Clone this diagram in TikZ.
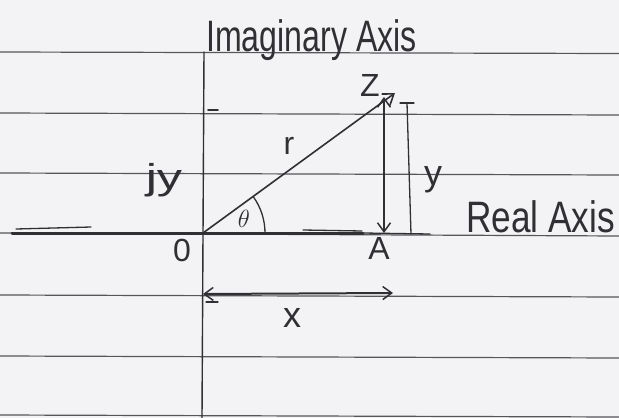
\documentclass[tikz,border=0pt]{standalone}
\usepackage{fontspec}
\usepackage{graphicx}
\setmainfont{Liberation Sans}
\usetikzlibrary{arrows.meta}
\definecolor{paper}{HTML}{F3F3F5}
\definecolor{rule}{HTML}{55555A}
\definecolor{pen}{HTML}{303034}
\tikzset{
  ruleline/.style={draw=rule, line width=1.2pt},
  penline/.style={draw=pen, line width=1.6pt, line cap=round},
  thinpen/.style={draw=pen, line width=1.3pt, line cap=round},
  axisline/.style={draw=pen, line width=3pt, line cap=round},
  barb/.style={-{Straight Barb[length=10pt,width=14pt,line width=1.6pt]}},
  dbarb/.style={{Straight Barb[length=9pt,width=13pt,line width=1.5pt]}-{Straight Barb[length=9pt,width=13pt,line width=1.5pt]}},
  lbl/.style={text=pen, inner sep=0pt, font=\fontsize{32}{34}\selectfont},
  axlbl/.style={text=pen, inner sep=0pt, anchor=base west, font=\fontsize{44}{46}\selectfont}
}
\begin{document}
\begin{tikzpicture}[x=1pt,y=-1pt]
\useasboundingbox (0,0) rectangle (619,418);
\fill[paper] (0,0) rectangle (619,418);
% ruled lines
\foreach \ya/\yb in {52/53.5, 113/115, 173/175, 295/297, 356/358, 415/417}
  \draw[ruleline] (0,\ya) -- (619,\yb);
\draw[ruleline] (0,233) -- (619,236);
% coordinates
\coordinate (O) at (203,233);
\coordinate (Z) at (395,93);
\coordinate (Atop) at (384,97);
\coordinate (A) at (384,233);
\coordinate (Ytop) at (407,103);
\coordinate (Ybot) at (411,234);
\coordinate (Xl) at (203,294);
\coordinate (Xr) at (393,293);
\coordinate (AxL) at (12,233);
\coordinate (AxR) at (363,233);
\coordinate (ImTop) at (204,52);
\coordinate (ImBot) at (202,418);
% axes
\draw[penline, line width=1.4pt] (ImTop) -- (ImBot);
\draw[axisline] (AxL) -- (AxR);
\draw[thinpen] (16,229) -- (91,227);
\draw[thinpen] (303,230) -- (362,231);
\draw[thinpen] (363,233) -- (430,234);
% vector
\draw[penline, barb] (O) -- (Z);
% angle arc
\draw[thinpen] (O) ++(0:62) arc[start angle=0, end angle=-36, radius=62];
% vertical double arrow Z-A
\draw[thinpen, dbarb] (Atop) -- (A);
% y dimension line
\draw[thinpen] (Ytop) -- (Ybot);
\draw[thinpen] (400,103) -- (414,103);
% tick on imaginary axis
\draw[penline] (208,110) -- (218,110);
% x arrow
\draw[penline, line width=2pt, dbarb] (Xl) -- (Xr);
\draw[thinpen] (206,302) -- (218,302);
% labels
\node[axlbl] (im) at (206,51) {\scalebox{0.73}[1]{Imaginary Axis}};
\node[axlbl] (re) at (466,232) {\scalebox{0.8}[1]{Real Axis}};
\node[lbl] (zl) at (370,85) {Z};
\node[lbl] (rl) at (289,146) {r};
\node[lbl, font=\fontsize{36}{38}\selectfont] (jy) at (164,180) {\scalebox{1.4}[1]{jy}};
\node[lbl, font=\fontsize{36}{38}\selectfont] (yl) at (433,180) {y};
\node[lbl, font=\fontsize{24}{26}\selectfont] (th) at (244,219) {$\theta$};
\node[lbl] (ol) at (182,250) {0};
\node[lbl] (al) at (379,248) {A};
\node[lbl, font=\fontsize{36}{38}\selectfont] (xl) at (292,318) {x};
\end{tikzpicture}
\end{document}
